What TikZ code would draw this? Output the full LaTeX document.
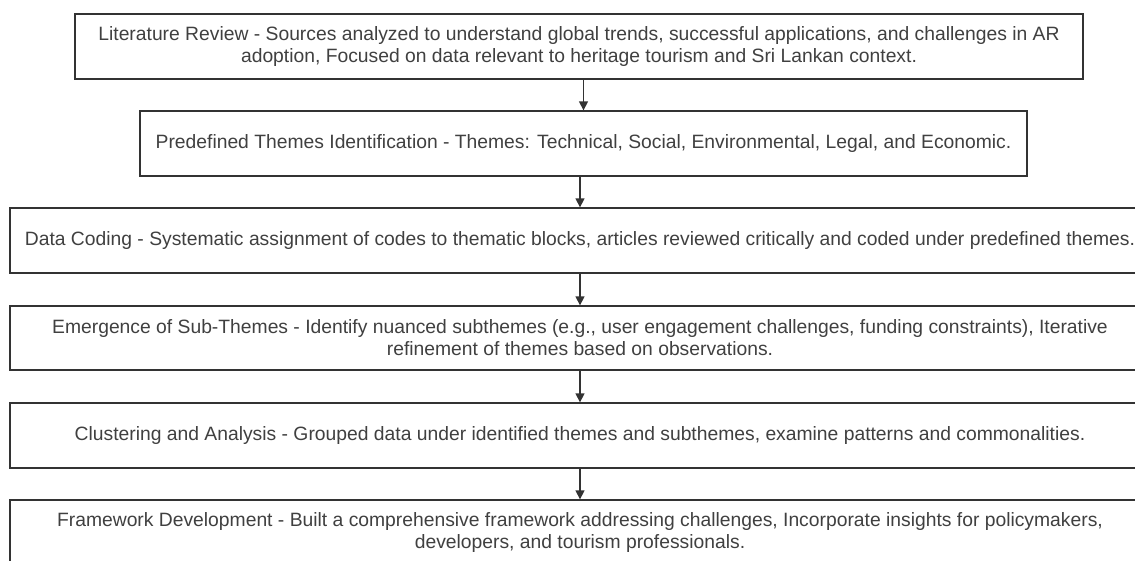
\documentclass[tikz,border=0pt]{standalone}
\usepackage{fontspec}
\setmainfont{Liberation Sans}
\usetikzlibrary{arrows.meta}
\colorlet{boxLine}{black!80}
\colorlet{boxText}{black!75}
\tikzset{
  stage/.style={draw=boxLine,line width=1.3pt,fill=white,text=boxText,
    align=center,inner sep=0pt,minimum height=65pt,
    font=\fontsize{19.3}{22}\selectfont},
  flow/.style={boxLine,line width=1.3pt,-{Triangle[length=9pt,width=9pt]}}
}

\begin{document}
\begin{tikzpicture}[x=1pt,y=-1pt]
\clip (0,0) rectangle (1135,560);
\fill[white] (0,0) rectangle (1135,560);
\node[stage,minimum width=1008pt] (lit) at (579,46.5)
  {Literature Review - Sources analyzed to understand global trends, successful applications, and challenges in AR\\
   adoption, Focused on data relevant to heritage tourism and Sri Lankan context.};
\node[stage,minimum width=887pt] (themes) at (583.5,143.5)
  {Predefined Themes Identification - Themes: Technical, Social, Environmental, Legal, and Economic.};
\node[stage,minimum width=1140pt] (coding) at (580,240.5)
  {Data Coding - Systematic assignment of codes to thematic blocks, articles reviewed critically and coded under predefined themes.};
\node[stage,minimum width=1140pt,minimum height=64pt] (subthemes) at (580,338)
  {Emergence of Sub-Themes - Identify nuanced subthemes (e.g., user engagement challenges, funding constraints), Iterative\\
   refinement of themes based on observations.};
\node[stage,minimum width=1140pt] (cluster) at (580,435.5)
  {Clustering and Analysis - Grouped data under identified themes and subthemes, examine patterns and commonalities.};
\node[stage,minimum width=1140pt] (framework) at (580,532.5)
  {Framework Development - Built a comprehensive framework addressing challenges, Incorporate insights for policymakers,\\
   developers, and tourism professionals.};
% arrows between stages
\draw[flow] (themes.center |- lit.south) -- (themes.north);
\draw[flow] (coding.center |- themes.south) -- (coding.north);
\draw[flow] (subthemes.center |- coding.south) -- (subthemes.north);
\draw[flow] (cluster.center |- subthemes.south) -- (cluster.north);
\draw[flow] (framework.center |- cluster.south) -- (framework.north);
\end{tikzpicture}
\end{document}
